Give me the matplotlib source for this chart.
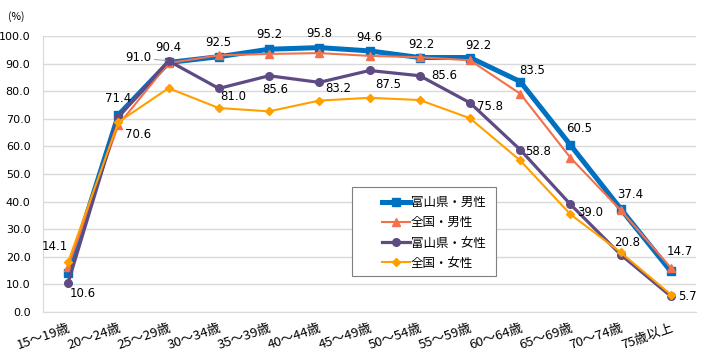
import matplotlib
matplotlib.use("Agg")
import matplotlib.pyplot as plt
from matplotlib.patches import Rectangle

plt.rcParams['font.family'] = ['Noto Sans CJK JP', 'DejaVu Sans']

categories = ["15～19歳", "20～24歳", "25～29歳", "30～34歳", "35～39歳", "40～44歳",
              "45～49歳", "50～54歳", "55～59歳", "60～64歳", "65～69歳", "70～74歳", "75歳以上"]
toyama_male = [14.1, 71.4, 90.4, 92.5, 95.2, 95.8, 94.6, 92.2, 92.2, 83.5, 60.5, 37.4, 14.7]
japan_male = [16.3, 67.8, 90.2, 93.0, 93.5, 93.8, 92.8, 92.3, 91.2, 79.1, 55.9, 36.9, 16.0]
toyama_female = [10.6, 70.6, 91.0, 81.0, 85.6, 83.2, 87.5, 85.6, 75.8, 58.8, 39.0, 20.8, 5.7]
japan_female = [18.1, 68.8, 81.1, 73.9, 72.7, 76.6, 77.6, 76.8, 70.2, 54.9, 35.4, 21.6, 6.3]
yticks = [0, 10, 20, 30, 40, 50, 60, 70, 80, 90, 100]

W, H = 702, 360
fig = plt.figure(figsize=(W / 100, H / 100), dpi=100)
ax = fig.add_axes([43 / W, 48 / H, (696 - 43) / W, (312 - 36) / H])

x = list(range(len(categories)))
ax.plot(x, toyama_male, color="#0070C0", lw=3.6, marker="s", ms=5.5, label="富山県・男性", zorder=2)
ax.plot(x, japan_male, color="#F4704A", lw=1.5, marker="^", ms=5.5, label="全国・男性", zorder=3)
ax.plot(x, toyama_female, color="#5E4B84", lw=2.3, marker="o", ms=5.5, label="富山県・女性", zorder=4)
ax.plot(x, japan_female, color="#FFA000", lw=1.5, marker="D", ms=4, label="全国・女性", zorder=5)

ax.set_xlim(-0.5, len(categories) - 0.5)
ax.set_ylim(0, 100)
ax.set_yticks(yticks)
ax.set_yticklabels([f"{v:.1f}" for v in yticks], fontsize=8, family="DejaVu Sans")
ax.set_xticks(x)
ax.set_xticklabels(categories, fontsize=9.5, rotation=19, ha="right", va="top", rotation_mode="anchor")
ax.tick_params(axis="y", length=0, pad=9)
ax.tick_params(axis="x", length=0, pad=7)
ax.grid(axis="y", color="#D9D9D9", lw=1)
ax.set_axisbelow(True)
for s in ["top", "right"]:
    ax.spines[s].set_visible(False)
ax.spines["left"].set_color("#D9D9D9")
ax.spines["bottom"].set_color("#D9D9D9")

fs = 8.5
PX = 0.72  # pixels -> points


def lab(i, v, dx, dy):
    ax.annotate(f"{v:.1f}", (i, v), xytext=(dx * PX, dy * PX), textcoords="offset points",
                ha="center", va="center", fontsize=fs, family="DejaVu Sans", zorder=10)


# offsets in pixels (dx right, dy up)
male_off = [(-13, 27), (0, 16), (0, 15), (0, 14), (0, 15), (0, 14), (0, 13), (2, 13),
            (8, 12), (12, 11), (9, 17), (10, 14), (9, 20)]
for i, v in enumerate(toyama_male):
    lab(i, v, *male_off[i])

fem_off = [(15, -11), (20, -17), None, (14, -8), (6, -14), (19, -6), (19, -14), (25, 0),
           (20, -4), (18, -2), (20, -8), (6, 12), (17, 0)]
for i, v in enumerate(toyama_female):
    if fem_off[i] is None:
        ax.annotate(f"{v:.1f}", (i, v), xytext=(-30 * PX, 3 * PX), textcoords="offset points",
                    ha="center", va="center", fontsize=fs, family="DejaVu Sans",
                    arrowprops=dict(arrowstyle="-", color="#A6A6A6", lw=0.8, shrinkA=12, shrinkB=2),
                    zorder=10)
    else:
        lab(i, v, *fem_off[i])

fig.text(8 / W, 1 - 17 / H, "(%)", fontsize=7.5, ha="left", va="center")

# legend: frame drawn separately for wider side padding
fig.patches.append(Rectangle((352 / W, 1 - 276 / H), (496 - 352) / W, (276 - 187) / H,
                             transform=fig.transFigure, facecolor="white", edgecolor="#808080",
                             lw=0.8, zorder=8))
leg = fig.legend(loc="upper left", bbox_to_anchor=(372 / W, 1 - 186 / H), fontsize=9,
                 frameon=False, handlelength=2.2, borderpad=0.3, labelspacing=0.58,
                 handletextpad=0.1)
leg.set_zorder(9)

fig.savefig("out.png", dpi=100)
